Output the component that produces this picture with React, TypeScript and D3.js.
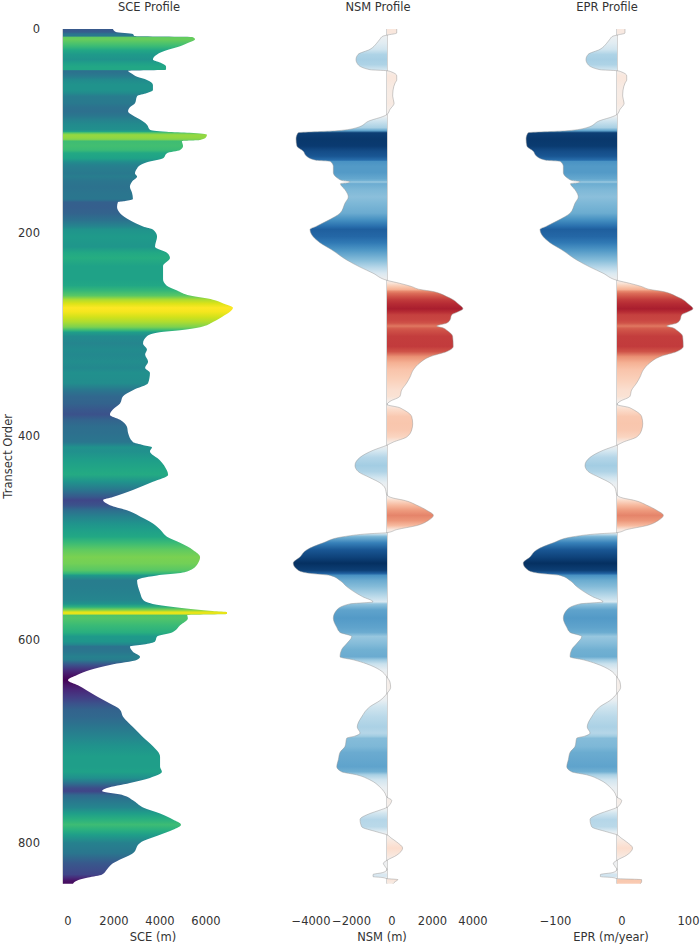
import React from 'react';
import * as d3 from 'd3';

// ---------- data ----------
const N_TRANSECTS = 840;
const Y_TICKS = [0, 200, 400, 600, 800];
const SCE_TICKS = [0, 2000, 4000, 6000];
const NSM_TICKS = [-4000, -2000, 0, 2000, 4000];
const EPR_TICKS = [-100, 0, 100];

// [transect, SCE (m)]
const SCE_PROFILE: [number, number][] = [
  [0,2170],[3,2300],[5,3040],[7,3100],[8,5650],[10,5740],[14,5400],[17,5090],[21,4500],[25,4090],
  [30,3910],[33,4220],[37,4480],[40,4480],[41,2830],[44,3000],[47,3220],[50,3650],[55,3910],[60,3910],
  [63,3650],[66,3220],[73,3130],[77,2910],[81,2830],[85,3040],[89,3350],[94,3650],[99,3780],[101,4500],
  [102,5500],[104,6260],[107,6200],[109,5960],[110,5170],[115,5220],[119,5090],[122,4520],[127,4350],[131,3650],
  [134,3350],[137,3220],[142,3130],[145,3220],[150,3000],[155,2910],[161,3000],[167,3040],[169,2700],[170,2390],
  [175,2350],[181,2480],[188,2910],[194,3480],[197,3910],[204,4090],[214,4000],[220,4520],[225,4650],[233,4350],
  [246,4350],[252,4500],[257,4960],[262,5520],[266,6520],[270,7000],[274,7390],[278,7260],[283,6910],[288,6520],
  [293,5960],[296,5090],[298,4200],[302,3650],[309,3480],[315,3650],[320,3570],[327,3700],[333,3570],[338,3780],
  [348,3700],[355,3040],[361,2610],[368,2480],[374,2170],[379,2040],[384,2480],[391,2780],[397,2830],[406,3040],
  [409,3500],[411,3870],[415,3780],[424,4220],[434,4520],[438,4570],[445,3910],[453,3040],[460,2170],[463,1740],
  [468,2040],[473,2780],[479,3350],[486,3910],[492,4220],[499,4520],[505,5090],[512,5650],[519,5960],[525,5870],
  [532,5520],[535,5000],[537,4090],[542,3220],[548,3260],[554,3350],[561,3480],[565,3900],[568,4800],[571,6000],
  [572,6500],[573,7130],[575,7130],[576,5400],[579,5430],[586,5090],[593,4740],[597,4090],[602,4000],[605,3500],
  [607,2910],[612,3040],[617,3350],[620,3220],[625,2040],[630,1170],[635,610],[640,220],[645,650],[650,1040],
  [656,1480],[663,2040],[669,2480],[676,2610],[686,3040],[696,3480],[705,3910],[715,4220],[725,4220],[730,4300],
  [736,3780],[741,2910],[746,1910],[749,1700],[753,2610],[758,3040],[765,3480],[771,4220],[777,4780],[782,5130],
  [787,4780],[792,4220],[800,3350],[810,3040],[820,2170],[826,1910],[831,1700],[834,1090],[837,600],[840,435],
];

// [transect, NSM (m)]
const NSM_PROFILE: [number, number][] = [
  [0,480],[4,480],[6,0],[7,-200],[10,-350],[14,-510],[20,-840],[25,-1430],[30,-1530],[35,-1430],
  [40,-840],[41,0],[42,200],[46,480],[50,480],[53,400],[60,300],[66,280],[73,350],[79,150],
  [84,0],[86,-200],[90,-840],[97,-1500],[100,-2480],[102,-4390],[108,-4490],[115,-4450],[120,-4140],[125,-3970],
  [129,-3500],[130,-2810],[135,-2650],[141,-2650],[147,-2410],[149,-2200],[150,-1830],[151,-1900],[152,-2300],[158,-2070],
  [165,-1910],[171,-2070],[181,-2320],[188,-2900],[194,-3500],[197,-3800],[204,-3650],[210,-3310],[217,-2730],[227,-1990],
  [234,-1330],[240,-690],[247,0],[250,640],[253,1200],[256,1630],[258,2270],[260,2620],[263,2950],[266,3260],
  [270,3510],[275,3750],[278,3500],[281,3190],[286,3110],[289,2950],[292,2450],[294,2800],[296,2950],[302,3240],
  [312,3270],[317,2950],[322,2120],[328,1630],[335,1300],[342,1140],[348,970],[355,720],[361,640],[366,150],
  [369,0],[372,600],[374,800],[381,1220],[388,1270],[394,1220],[401,970],[406,310],[409,0],[414,-680],
  [421,-1330],[429,-1580],[435,-1420],[441,-840],[446,-350],[451,-100],[458,0],[461,300],[463,800],[468,1470],
  [473,1960],[478,2290],[483,2040],[488,1470],[492,480],[495,0],[496,-840],[499,-2160],[505,-3150],[512,-3970],
  [519,-4300],[525,-4630],[532,-4380],[535,-3800],[537,-2810],[542,-2320],[548,-1990],[558,-1200],[563,-690],[565,-1830],
  [571,-2480],[579,-2650],[588,-2480],[593,-2320],[597,-1740],[604,-1990],[610,-2240],[617,-2320],[620,-1660],[624,-1000],
  [630,-350],[637,0],[642,150],[647,180],[653,0],[660,-350],[666,-840],[676,-1250],[686,-1470],[692,-1330],
  [695,-1600],[697,-1990],[705,-2070],[711,-2320],[718,-2400],[725,-2480],[730,-2240],[733,-1500],[738,-840],[745,-350],
  [751,-100],[755,0],[758,230],[762,150],[765,0],[768,-400],[771,-840],[777,-1330],[784,-1250],[789,-510],
  [792,0],[795,200],[799,480],[805,770],[812,480],[817,0],[820,-180],[823,-100],[826,0],[829,-200],
  [831,-690],[833,-690],[834,-200],[835,0],[836,540],[838,400],[840,300],
];

// [transect, EPR (m/year)]
const EPR_PROFILE: [number, number][] = [
  [0,12],[4,12],[6,0],[7,-6.1],[10,-10.7],[14,-15.5],[20,-25.6],[25,-43.5],[30,-46.6],[35,-43.5],
  [40,-25.6],[41,0],[42,6.1],[46,14.6],[50,14.6],[53,12.2],[60,9.1],[66,8.5],[73,10.7],[79,4.6],
  [84,0],[86,-6.1],[90,-25.6],[97,-45.7],[100,-75.5],[102,-133.7],[108,-136.7],[115,-135.5],[120,-126.1],[125,-120.9],
  [129,-106.6],[130,-85.6],[135,-80.7],[141,-80.7],[147,-73.4],[149,-67.0],[150,-55.7],[151,-57.9],[152,-70.0],[158,-63.0],
  [165,-58.2],[171,-63.0],[181,-70.6],[188,-88.3],[194,-106.6],[197,-115.7],[204,-111.1],[210,-100.8],[217,-83.1],[227,-60.6],
  [234,-40.5],[240,-21.0],[247,0],[250,19.5],[253,36.5],[256,49.6],[258,69.1],[260,79.8],[263,89.8],[266,99.3],
  [270,106.9],[275,114.2],[278,106.6],[281,97.1],[286,94.7],[289,89.8],[292,74.6],[294,85.3],[296,89.8],[302,98.7],
  [312,99.6],[317,89.8],[322,64.6],[328,49.6],[335,39.6],[342,34.7],[348,29.5],[355,21.9],[361,19.5],[366,4.6],
  [369,0],[372,18.3],[374,24.4],[381,37.1],[388,38.7],[394,37.1],[401,29.5],[406,9.4],[409,0],[414,-20.7],
  [421,-40.5],[429,-48.1],[435,-43.2],[441,-25.6],[446,-10.7],[451,-3.0],[458,0],[461,9.1],[463,24.4],[468,44.8],
  [473,59.7],[478,69.7],[483,62.1],[488,44.8],[492,14.6],[495,0],[496,-25.6],[499,-65.8],[505,-95.9],[512,-120.9],
  [519,-130.9],[525,-141.0],[532,-133.4],[535,-115.7],[537,-85.6],[542,-70.6],[548,-60.6],[558,-36.5],[563,-21.0],[565,-55.7],
  [571,-75.5],[579,-80.7],[588,-75.5],[593,-70.6],[597,-53.0],[604,-60.6],[610,-68.2],[617,-70.6],[620,-50.5],[624,-30.5],
  [630,-10.7],[637,0],[642,4.6],[647,5.5],[653,0],[660,-10.7],[666,-25.6],[676,-38.1],[686,-44.8],[692,-40.5],
  [695,-48.7],[697,-60.6],[705,-63.0],[711,-70.6],[718,-73.1],[725,-75.5],[730,-68.2],[733,-45.7],[738,-25.6],[745,-10.7],
  [751,-3.0],[755,0],[758,7.0],[762,4.6],[765,0],[768,-12.2],[771,-25.6],[777,-40.5],[784,-38.1],[789,-15.5],
  [792,0],[795,6.1],[799,14.6],[805,23.4],[812,14.6],[817,0],[820,-5.5],[823,-3.0],[826,0],[829,-6.1],
  [831,-25],[833,-25],[834,-6.1],[835,0],[836,37],[838,37],[840,35],
];

// ---------- layout ----------
const FONT = '"DejaVu Sans", Verdana, sans-serif';
const TEXT_COLOR = '#333333';
const FS = 11.5;
const LABEL_DX = 5;

type Panel = {
  key: string;
  title: string;
  label: string;
  data: [number, number][];
  ticks: number[];
  domain: [number, number];
  range: [number, number];
  titleX: number;
  diverging: boolean;
  outline: boolean;
};

const PANELS: Panel[] = [
  { key: 'sce', title: 'SCE Profile', label: 'SCE (m)', data: SCE_PROFILE, ticks: SCE_TICKS,
    domain: [0, 6000], range: [63, 201], titleX: 149, diverging: false, outline: false },
  { key: 'nsm', title: 'NSM Profile', label: 'NSM (m)', data: NSM_PROFILE, ticks: NSM_TICKS,
    domain: [-4000, 4000], range: [306, 468], titleX: 378, diverging: true, outline: true },
  { key: 'epr', title: 'EPR Profile', label: 'EPR (m/year)', data: EPR_PROFILE, ticks: EPR_TICKS,
    domain: [-100, 100], range: [550.5, 683.5], titleX: 607, diverging: true, outline: true },
];

const fmt = (v: number) => String(v).replace('-', '\u2212');

export default function App() {
  const y = d3.scaleLinear().domain([0, N_TRANSECTS]).range([29, 883.7]);

  return (
    <svg width={700} height={945} style={{ position: 'absolute', left: 0, top: 0, background: '#fff' }}
      fontFamily={FONT}>
      <rect x={0} y={0} width={700} height={945} fill="#ffffff" />
      {/* y axis */}
      {Y_TICKS.map((t) => (
        <text key={t} x={40} y={y(t)} dy="0.35em" textAnchor="end" fontSize={FS} fill={TEXT_COLOR}>{t}</text>
      ))}
      <text transform={`translate(11.5,${(y(0) + y(N_TRANSECTS)) / 2}) rotate(-90)`} textAnchor="middle"
        fontSize={FS} fill={TEXT_COLOR}>Transect Order</text>

      {PANELS.map((p) => {
        const x = d3.scaleLinear().domain(p.domain).range(p.range);
        const vals = p.data.map((d) => d[1]);
        let color: (v: number) => string;
        if (p.diverging) {
          const M = d3.max(vals, (v) => Math.abs(v)) as number;
          color = (v) => d3.interpolateRdBu((M - v) / (2 * M));
        } else {
          const [lo, hi] = d3.extent(vals) as [number, number];
          color = (v) => d3.interpolateViridis((v - lo) / (hi - lo));
        }
        const area = d3.area<[number, number]>()
          .y((d) => y(d[0]))
          .x0(() => x(0))
          .x1((d) => x(d[1]))
          .curve(d3.curveMonotoneY);
        const line = d3.line<[number, number]>()
          .y((d) => y(d[0]))
          .x((d) => x(d[1]))
          .curve(d3.curveMonotoneY);
        const gid = `grad-${p.key}`;
        const labelX = (p.range[0] + p.range[1]) / 2;
        return (
          <g key={p.key}>
            <defs>
              <linearGradient id={gid} gradientUnits="userSpaceOnUse" x1={0} y1={y(0)} x2={0} y2={y(N_TRANSECTS)}>
                {p.data.map((d, i) => (
                  <stop key={i} offset={`${(d[0] / N_TRANSECTS) * 100}%`} stopColor={color(d[1])} />
                ))}
              </linearGradient>
            </defs>
            <text x={p.titleX} y={11} textAnchor="middle" fontSize={FS} fill={TEXT_COLOR}>{p.title}</text>
            <line x1={x(0)} x2={x(0)} y1={y(0)} y2={y(N_TRANSECTS)} stroke="#a8a8a8" strokeWidth={1} />
            <path d={area(p.data) || ''} fill={`url(#${gid})`} />
            {p.outline && (
              <path d={line(p.data) || ''} fill="none" stroke="#8f8f8f" strokeWidth={0.6} strokeOpacity={0.75} />
            )}
            {p.ticks.map((t) => (
              <text key={t} x={x(t) + LABEL_DX} y={925} textAnchor="middle" fontSize={FS} fill={TEXT_COLOR}>{fmt(t)}</text>
            ))}
            <text x={p.titleX + 4} y={941} textAnchor="middle" fontSize={FS} fill={TEXT_COLOR}>{p.label}</text>
          </g>
        );
      })}
    </svg>
  );
}
